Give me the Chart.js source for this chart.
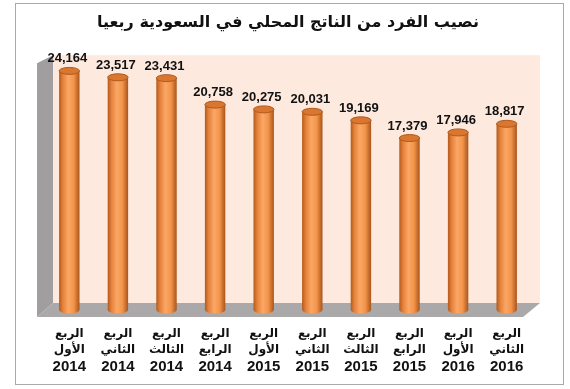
<!DOCTYPE html>
<html>
<head>
<meta charset="utf-8">
<script src="https://cdn.jsdelivr.net/npm/chart.js@4/dist/chart.umd.min.js"></script>
<style>
  html, body { margin: 0; padding: 0; background: #fff; }
  #wrap { width: 570px; height: 389px; position: relative; }
</style>
</head>
<body>
<div id="wrap"><canvas id="chart"></canvas></div>
<script>
'use strict';

const quarterWord = 'الربع';
const quarters = ['الأول', 'الثاني', 'الثالث', 'الرابع', 'الأول', 'الثاني', 'الثالث', 'الرابع', 'الأول', 'الثاني'];
const years = ['2014', '2014', '2014', '2014', '2015', '2015', '2015', '2015', '2016', '2016'];
const values = [24164, 23517, 23431, 20758, 20275, 20031, 19169, 17379, 17946, 18817];
const titleText = 'نصيب الفرد من الناتج المحلي في السعودية ربعيا';

const labels = quarters.map((q, i) => [quarterWord, q, years[i]]);

// frame, back wall, side wall and floor
const backdrop = {
    id: 'backdrop',
    beforeDraw(chart) {
        const { ctx, chartArea: a } = chart;
        ctx.save();
        ctx.fillStyle = '#fff';
        ctx.fillRect(0, 0, chart.width, chart.height);
        ctx.strokeStyle = '#a9a9a9';
        ctx.lineWidth = 1;
        ctx.strokeRect(15.5, 3.5, 548, 381);

        ctx.fillStyle = '#fde9dd';
        ctx.fillRect(a.left + 8, a.top, a.right + 9 - (a.left + 8), a.bottom - 7 - a.top);

        ctx.fillStyle = '#a09e9e';
        ctx.beginPath();
        ctx.moveTo(a.left - 8, a.top + 8);
        ctx.lineTo(a.left + 8, a.top);
        ctx.lineTo(a.left + 8, a.bottom - 7);
        ctx.lineTo(a.left - 8, a.bottom + 7);
        ctx.closePath();
        ctx.fill();

        ctx.fillStyle = '#aaa8a8';
        ctx.beginPath();
        ctx.moveTo(a.left + 8, a.bottom - 7);
        ctx.lineTo(a.right + 9, a.bottom - 7);
        ctx.lineTo(a.right - 8, a.bottom + 7);
        ctx.lineTo(a.left - 8, a.bottom + 7);
        ctx.closePath();
        ctx.fill();
        ctx.restore();
    }
};

// cylinders, value labels and category labels
const cylinders = {
    id: 'cylinders',
    afterDatasetsDraw(chart) {
        const { ctx } = chart;
        const meta = chart.getDatasetMeta(0);
        ctx.save();
        meta.data.forEach((bar, i) => {
            const w = bar.width;
            const x0 = bar.x - w / 2;
            const ry = 3.5;
            const g = ctx.createLinearGradient(x0, 0, x0 + w, 0);
            g.addColorStop(0, '#b35a1c');
            g.addColorStop(0.18, '#e4813a');
            g.addColorStop(0.45, '#fba766');
            g.addColorStop(0.72, '#f3944a');
            g.addColorStop(1, '#a9551b');
            ctx.fillStyle = g;
            ctx.beginPath();
            ctx.moveTo(x0, bar.y);
            ctx.lineTo(x0, bar.base);
            ctx.ellipse(bar.x, bar.base, w / 2, ry, 0, Math.PI, 0, true);
            ctx.lineTo(x0 + w, bar.y);
            ctx.closePath();
            ctx.fill();

            ctx.fillStyle = '#d9762f';
            ctx.strokeStyle = '#b05a1c';
            ctx.lineWidth = 1;
            ctx.beginPath();
            ctx.ellipse(bar.x, bar.y, w / 2, ry, 0, 0, Math.PI * 2);
            ctx.fill();
            ctx.stroke();

            ctx.fillStyle = '#111';
            ctx.font = 'bold 13px "Liberation Sans", Arial, sans-serif';
            ctx.textAlign = 'center';
            ctx.textBaseline = 'middle';
            ctx.fillText(values[i].toLocaleString('en-US'), bar.x - 2, bar.y - 12);
        });

        const xs = chart.scales.x;
        labels.forEach((lines, i) => {
            const x = xs.getPixelForValue(i);
            ctx.fillStyle = '#111';
            ctx.textAlign = 'center';
            ctx.textBaseline = 'middle';
            ctx.font = 'bold 12px "DejaVu Sans", sans-serif';
            ctx.fillText(lines[0], x, 334);
            ctx.fillText(lines[1], x, 350);
            ctx.font = 'bold 15px "Liberation Sans", Arial, sans-serif';
            ctx.fillText(lines[2], x, 367);
        });
        ctx.restore();
    }
};

new Chart(document.getElementById('chart'), {
    type: 'bar',
    data: {
        labels: labels,
        datasets: [{
            data: values,
            backgroundColor: 'rgba(0,0,0,0)',
            borderWidth: 0,
            barPercentage: 0.42,
            categoryPercentage: 1
        }]
    },
    options: {
        responsive: true,
        maintainAspectRatio: false,
        animation: false,
        layout: { padding: { left: 45, right: 39, bottom: 79 } },
        plugins: {
            legend: { display: false },
            tooltip: { enabled: false },
            title: {
                display: true,
                text: titleText,
                color: '#111',
                font: { family: '"DejaVu Sans", sans-serif', size: 16, weight: 'bold' },
                padding: { top: 13, bottom: 23 }
            }
        },
        scales: {
            x: { display: false },
            y: { display: false, min: 0, max: 25750 }
        }
    },
    plugins: [backdrop, cylinders]
});
</script>
</body>
</html>
